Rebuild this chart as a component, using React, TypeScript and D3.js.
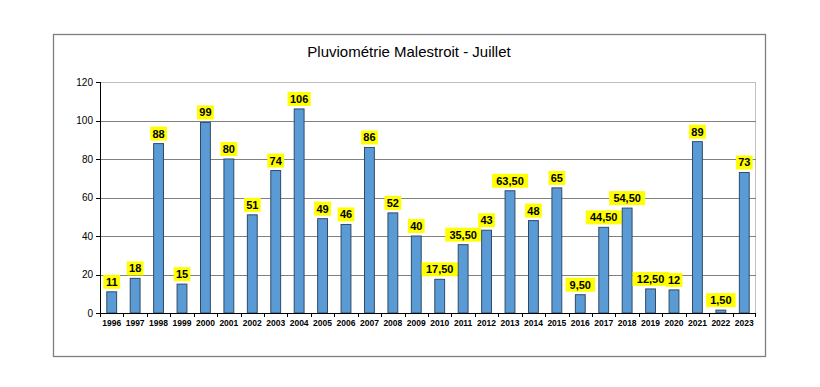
import React from "react";
import * as d3 from "d3";

const years = ["1996","1997","1998","1999","2000","2001","2002","2003","2004","2005","2006","2007","2008","2009","2010","2011","2012","2013","2014","2015","2016","2017","2018","2019","2020","2021","2022","2023"];
const rainfall = [11,18,88,15,99,80,51,74,106,49,46,86,52,40,17.5,35.5,43,63.5,48,65,9.5,44.5,54.5,12.5,12,89,1.5,73];
const yTicks = [0,20,40,60,80,100,120];
const title = "Pluviométrie Malestroit - Juillet";

const fmt = (v: number) => (Number.isInteger(v) ? String(v) : v.toFixed(2).replace(".", ","));

export default function App() {
  const W = 820, H = 387;
  const left = 100, right = 756, top = 82, bottom = 313;
  const x = d3.scaleBand<string>().domain(years).range([left, right]).paddingInner(0.58).paddingOuter(0.29);
  const xb = d3.scaleBand<string>().domain(years).range([left, right]);
  const y = d3.scaleLinear().domain([0, 120]).range([bottom, top]);
  const font = "Arial, 'Liberation Sans', sans-serif";
  return (
    <svg width={W} height={H} style={{ position: "absolute", left: 0, top: 0 }}>
      <rect x={0} y={0} width={W} height={H} fill="#fff" />
      <rect x={53.5} y={34.5} width={712} height={322} fill="#fff" stroke="#7f7f7f" strokeWidth={1.3} />
      <text x={409} y={57} textAnchor="middle" fontFamily={font} fontSize={15} fill="#000">{title}</text>
      <line x1={left} x2={right} y1={top + 0.5} y2={top + 0.5} stroke="#c0c0c0" />
      <line x1={right - 0.5} x2={right - 0.5} y1={top} y2={bottom} stroke="#c0c0c0" />
      {yTicks.filter(t => t > 0 && t < 120).map(t => (
        <line key={t} x1={left} x2={right} y1={Math.round(y(t)) + 0.5} y2={Math.round(y(t)) + 0.5} stroke="#808080" />
      ))}
      <line x1={left + 0.5} x2={left + 0.5} y1={top} y2={bottom} stroke="#000" />
      {yTicks.map(t => (
        <g key={t}>
          <line x1={left - 4} x2={left} y1={Math.round(y(t)) + 0.5} y2={Math.round(y(t)) + 0.5} stroke="#000" />
          <text x={left - 7} y={y(t) + 3.5} textAnchor="end" fontFamily={font} fontSize={10} fill="#000">{t}</text>
        </g>
      ))}
      {years.map((yr, i) => {
        const v = rainfall[i];
        const bx = x(yr)!;
        const bw = x.bandwidth();
        const yt = y(v);
        const label = fmt(v);
        const tw = label.length * 6.4 + 4;
        const cx = bx + bw / 2;
        return (
          <g key={yr}>
            <rect x={bx} y={yt} width={bw} height={bottom - yt} fill="#5b9bd5" stroke="#2e4a66" strokeWidth={1} />
            <rect x={cx - tw / 2} y={yt - 17} width={tw} height={14} fill="#ffff00" />
            <text x={cx} y={yt - 6} textAnchor="middle" fontFamily={font} fontSize={11} fontWeight="bold" fill="#000">{label}</text>
          </g>
        );
      })}
      <line x1={left} x2={right} y1={bottom + 0.5} y2={bottom + 0.5} stroke="#000" />
      {years.map((yr, i) => (
        <g key={yr}>
          <line x1={Math.round(xb(yr)!) + 0.5} x2={Math.round(xb(yr)!) + 0.5} y1={bottom} y2={bottom + 4} stroke="#000" />
          {i === years.length - 1 && <line x1={right - 0.5} x2={right - 0.5} y1={bottom} y2={bottom + 4} stroke="#000" />}
          <text x={xb(yr)! + xb.bandwidth() / 2} y={bottom + 13} textAnchor="middle" fontFamily={font} fontSize={8.5} fontWeight="bold" fill="#000">{yr}</text>
        </g>
      ))}
    </svg>
  );
}
